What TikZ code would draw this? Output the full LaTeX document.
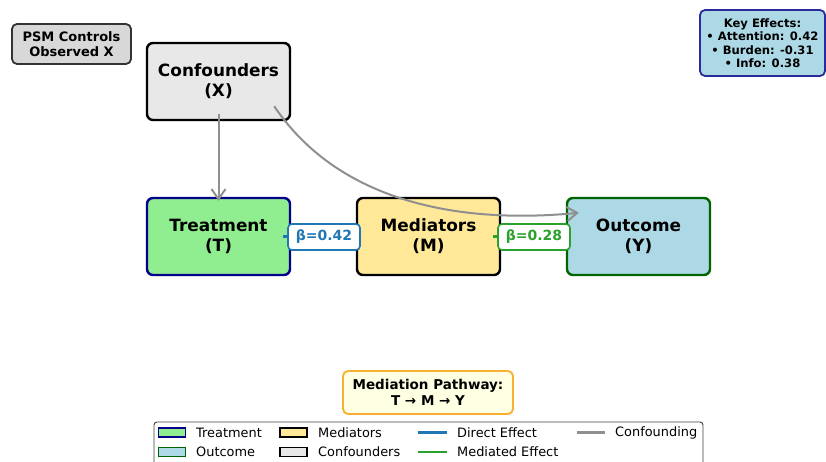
\documentclass[tikz,border=0pt]{standalone}
\usepackage{fontspec}
\setmainfont{DejaVu Sans}
\usetikzlibrary{arrows.meta,calc}
\definecolor{tabblue}{HTML}{1F77B4}
\definecolor{tabgreen}{HTML}{2CA02C}
\definecolor{arrgray}{HTML}{8F8F8F}
\definecolor{tgreen}{HTML}{90EE90}
\definecolor{tnavy}{HTML}{00008B}
\definecolor{myellow}{HTML}{FFE999}
\definecolor{oblue}{HTML}{ADD8E6}
\definecolor{odgreen}{HTML}{006400}
\definecolor{cgray}{HTML}{E8E8E8}
\definecolor{psmgray}{HTML}{D8D8D8}
\definecolor{keyborder}{HTML}{2A2A9A}
\definecolor{lyellow}{HTML}{FFFFE4}
\definecolor{orangeb}{HTML}{F8B030}
\begin{document}
\begin{tikzpicture}[x=1pt,y=-1pt,
  mainbox/.style={draw,line width=2.4pt,rounded corners=6pt,minimum width=143pt,minimum height=77pt,inner sep=0pt,align=center,font=\fontsize{16.9}{20}\selectfont\bfseries},
  betabox/.style={draw,fill=white,line width=1.6pt,rounded corners=4pt,minimum width=72pt,minimum height=26pt,inner sep=0pt,font=\fontsize{14}{16}\selectfont\bfseries},
  infobox/.style={draw,rounded corners=5pt,inner sep=0pt,align=center},
  confarrow/.style={draw=arrgray,line width=2pt,-{Straight Barb[length=10pt,width=14pt]}},
  effarrow/.style={line width=2.6pt,-{Stealth[length=7pt,width=7pt]}},
  legpatch/.style={draw,line width=1.5pt,minimum width=27pt,minimum height=9pt,inner sep=0pt},
  legtext/.style={anchor=west,inner sep=0pt,font=\fontsize{12.9}{14}\selectfont}
]
\useasboundingbox (0,0) rectangle (826,462);
\clip (0,0) rectangle (826,462);

% boxes
\node[infobox,fill=psmgray,draw=black!80,line width=1.8pt,minimum width=119pt,minimum height=40pt,font=\fontsize{13}{15}\selectfont\bfseries] (psm) at (71.5,44) {PSM Controls\\Observed X};
\node[mainbox,fill=cgray,draw=black] (conf) at (218.5,81.5) {Confounders\\(X)};
\node[mainbox,fill=tgreen,draw=tnavy] (treat) at (218.5,236.5) {Treatment\\(T)};
\node[mainbox,fill=myellow,draw=black] (med) at (428.5,236.5) {Mediators\\(M)};
\node[mainbox,fill=oblue,draw=odgreen] (out) at (638.5,236.5) {Outcome\\(Y)};
\node[infobox,fill=oblue,draw=keyborder,line width=1.8pt,minimum width=125pt,minimum height=66pt,font=\fontsize{11.6}{13.5}\selectfont\bfseries] (key) at (762.5,43) {Key Effects:\\• Attention: 0.42\\• Burden: -0.31\\• Info: 0.38};
\node[infobox,fill=lyellow,draw=orangeb,line width=1.8pt,minimum width=170pt,minimum height=43pt,font=\fontsize{13.5}{16}\selectfont\bfseries] (path) at (428,392.5) {Mediation Pathway:\\T → M → Y};

% effect arrows with labels
\draw[effarrow,draw=tabblue,fill=tabblue] ($(treat.east)+(-8,0)$) -- ($(med.west)+(5,0)$);
\draw[effarrow,draw=tabgreen,fill=tabgreen] ($(med.east)+(-8,0)$) -- ($(out.west)+(5,0)$);
\node[betabox,draw=tabblue,text=tabblue] (b1) at (324,237) {β=0.42};
\node[betabox,draw=tabgreen,text=tabgreen] (b2) at (534,237) {β=0.28};

% confounding arrows
\draw[confarrow] ($(conf.south)+(0,-7)$) -- ($(treat.north)+(0,4)$);
\draw[confarrow] ($(conf.south east)+(-17,-15)$) .. controls (332,192) and (440,226) .. ($(out.north west)+(13,16)$);

% legend
\draw[draw=black!75,line width=0.9pt,fill=white,rounded corners=3pt] (154,422) rectangle (703,480);
\node[legpatch,fill=tgreen,draw=tnavy] (lp1) at (172,432.5) {};
\node[legtext] (lt1) at (196,432.5) {Treatment};
\node[legpatch,fill=oblue,draw=odgreen] (lp2) at (172,452) {};
\node[legtext] (lt2) at (196,452) {Outcome};
\node[legpatch,fill=myellow,draw=black] (lp3) at (293.5,432.5) {};
\node[legtext] (lt3) at (318,432.5) {Mediators};
\node[legpatch,fill=cgray,draw=black] (lp4) at (293.5,452) {};
\node[legtext] (lt4) at (318,452) {Confounders};
\coordinate (l5a) at (418,432.5); \coordinate (l5b) at (447,432.5);
\draw[tabblue,line width=2.6pt] (l5a) -- (l5b);
\node[legtext] (lt5) at (457,432.5) {Direct Effect};
\coordinate (l6a) at (418,452); \coordinate (l6b) at (447,452);
\draw[tabgreen,line width=2.6pt] (l6a) -- (l6b);
\node[legtext] (lt6) at (457,452) {Mediated Effect};
\coordinate (l7a) at (577,432.5); \coordinate (l7b) at (605,432.5);
\draw[arrgray,line width=2.6pt] (l7a) -- (l7b);
\node[legtext] (lt7) at (615,432.5) {Confounding};
\end{tikzpicture}
\end{document}
